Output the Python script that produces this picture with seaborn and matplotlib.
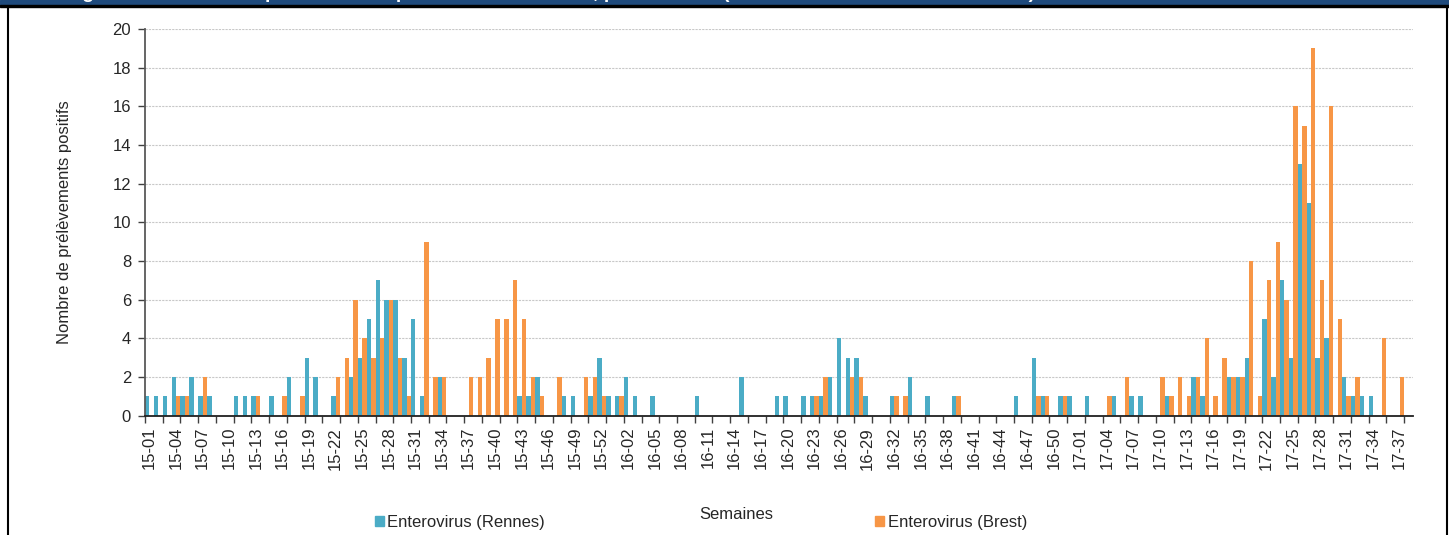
import numpy as np
import pandas as pd
import matplotlib
matplotlib.use("Agg")
import matplotlib.pyplot as plt
from matplotlib.patches import Rectangle, Patch
from matplotlib.lines import Line2D
import seaborn as sns

# semaines ISO : 2015 (53 sem.), 2016 (52 sem.), 2017 (jusqu'a 17-38)
weeks = ([f"15-{w:02d}" for w in range(1, 54)]
         + [f"16-{w:02d}" for w in range(1, 53)]
         + [f"17-{w:02d}" for w in range(1, 39)])

rennes = [
    1, 1, 1, 2, 1, 2, 1, 1, 0, 0,
    1, 1, 1, 0, 1, 0, 2, 0, 3, 2,
    0, 1, 0, 2, 3, 5, 7, 6, 6, 3,
    5, 1, 0, 2, 0, 0, 0, 0, 0, 0,
    0, 0, 1, 1, 2, 0, 0, 1, 1, 0,
    1, 3, 1, 1, 2, 1, 0, 1, 0, 0,
    0, 0, 1, 0, 0, 0, 0, 2, 0, 0,
    0, 1, 1, 0, 1, 1, 1, 2, 4, 3,
    3, 1, 0, 0, 1, 0, 2, 0, 1, 0,
    0, 1, 0, 0, 0, 0, 0, 0, 1, 0,
    3, 1, 0, 1, 1, 0, 1, 0, 0, 1,
    0, 1, 1, 0, 0, 1, 0, 0, 2, 1,
    0, 0, 2, 2, 3, 0, 5, 2, 7, 3,
    13, 11, 3, 4, 0, 2, 1, 1, 1, 0,
    0, 0, 0,
]

brest = [
    0, 0, 0, 1, 1, 0, 2, 0, 0, 0,
    0, 0, 1, 0, 0, 1, 0, 1, 0, 0,
    0, 2, 3, 6, 4, 3, 4, 6, 3, 1,
    0, 9, 2, 2, 0, 0, 2, 2, 3, 5,
    5, 7, 5, 2, 1, 0, 2, 0, 0, 2,
    2, 1, 0, 1, 0, 0, 0, 0, 0, 0,
    0, 0, 0, 0, 0, 0, 0, 0, 0, 0,
    0, 0, 0, 0, 0, 1, 2, 0, 0, 2,
    2, 0, 0, 0, 1, 1, 0, 0, 0, 0,
    0, 1, 0, 0, 0, 0, 0, 0, 0, 0,
    1, 1, 0, 1, 0, 0, 0, 0, 1, 0,
    2, 0, 0, 0, 2, 1, 2, 1, 2, 4,
    1, 3, 2, 2, 8, 1, 7, 9, 6, 16,
    15, 19, 7, 16, 5, 1, 2, 0, 0, 4,
    0, 2, 0,
]

series = ["Enterovirus (Rennes)", "Enterovirus (Brest)"]
colors = ["#4BACC6", "#F79646"]

df = pd.DataFrame({
    "Semaine": weeks * 2,
    "n": rennes + brest,
    "Serie": [series[0]] * len(weeks) + [series[1]] * len(weeks),
})

sns.set_theme(style="white")
plt.rcParams["font.family"] = ["Liberation Sans", "DejaVu Sans"]

W, H = 1449, 535
fig = plt.figure(figsize=(W / 100, H / 100), dpi=100)
ax = fig.add_axes([145 / W, (H - 415.7) / H, 1268 / W, (415.7 - 29) / H])

sns.barplot(data=df, x="Semaine", y="n", hue="Serie", order=weeks,
            hue_order=series, palette=colors, width=1, saturation=1,
            errorbar=None, legend=False, linewidth=0, ax=ax)

ax.set_xlim(-0.5, len(weeks) - 0.5)
ax.set_ylim(0, 20)
ax.set_yticks(np.arange(0, 21, 2))
ax.tick_params(axis="y", labelsize=12, length=5, width=1, color="#404040",
               pad=5, left=True, direction="out")

pos = np.arange(0, len(weeks), 3)
ax.set_xticks(pos)
ax.set_xticklabels([weeks[i] for i in pos], rotation=90, fontsize=12)
ax.set_xticks(np.arange(-0.5, len(weeks) - 1, 2), minor=True)
ax.tick_params(axis="x", which="major", length=0, pad=8)
ax.tick_params(axis="x", which="minor", length=5, width=1, color="#404040",
               bottom=True, direction="out")

ax.yaxis.grid(True, color="#c8c8c8", linestyle=(0, (2, 1)), linewidth=0.8)
ax.set_axisbelow(True)
for s in ["top", "right"]:
    ax.spines[s].set_visible(False)
ax.spines["left"].set_color("#595959")
ax.spines["left"].set_linewidth(1.3)
ax.spines["bottom"].set_color("#202020")
ax.spines["bottom"].set_linewidth(1.3)

ax.set_ylabel("Nombre de prélèvements positifs", fontsize=12)
ax.yaxis.set_label_coords((72 - 145) / 1268, 0.5)
ax.set_xlabel("Semaines", fontsize=12)
ax.xaxis.set_label_coords((736 - 145) / 1268, (415.7 - 507) / 386.7)

handles = [Patch(color=c) for c in colors]
fig.legend(handles, series, ncol=2, loc="center", frameon=False,
           bbox_to_anchor=(701 / W, (H - 522) / H), fontsize=12,
           handlelength=0.55, handleheight=0.55, handletextpad=0.2,
           columnspacing=19.8)

# bandeau du titre (coupe en haut de l'image) et cadre
fig.patches.append(Rectangle((0, 1 - 5 / H), 1, 5 / H, transform=fig.transFigure,
                             color="#1f4a7c", zorder=0))
fig.patches.append(Rectangle((0, 1 - 7 / H), 1, 2 / H, transform=fig.transFigure,
                             color="black", zorder=0))
fig.add_artist(Line2D([7.5 / W, 7.5 / W], [0, 1 - 6 / H], color="black", lw=1.5))
fig.add_artist(Line2D([1446.5 / W, 1446.5 / W], [0, 1 - 6 / H], color="black", lw=1.5))
fig.text(65 / W, 1 + 1.5 / H,
         "Figure 4 : Nombre de prélèvements positifs à entérovirus, par semaine (CHU de Rennes et CHU de Brest)",
         color="white", fontsize=14, fontweight="bold", va="baseline", zorder=1)

fig.savefig("out.png", dpi=100)
